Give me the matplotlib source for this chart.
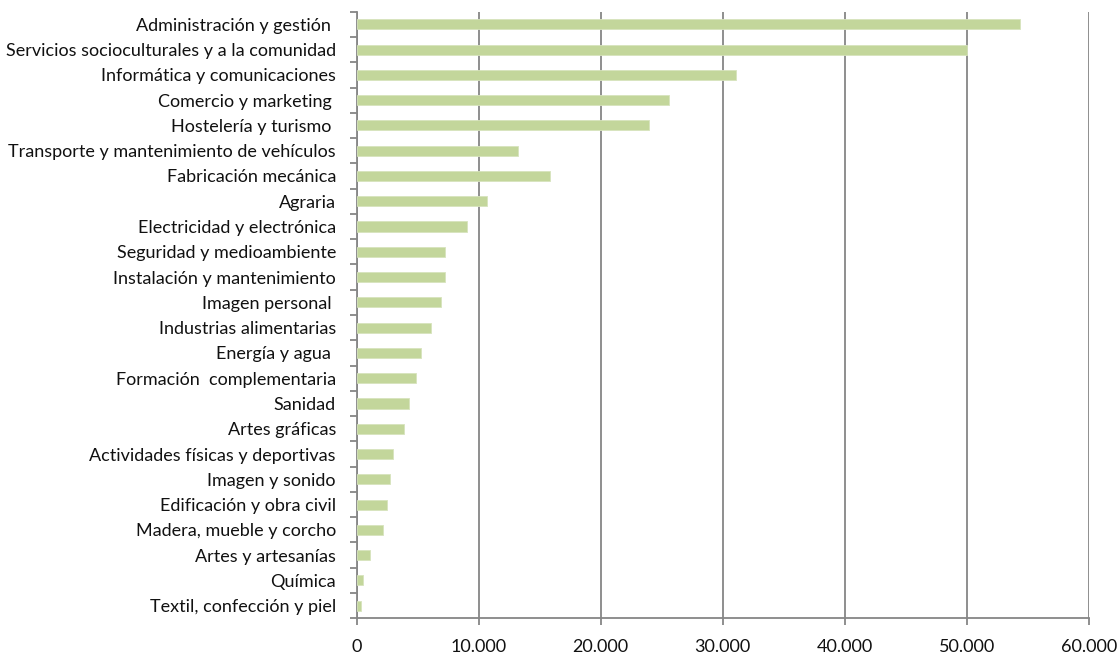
import matplotlib

matplotlib.use("Agg")
import matplotlib.pyplot as plt
import numpy as np
from matplotlib.ticker import FuncFormatter, FixedLocator

categories = [
    "Administración y gestión ",
    "Servicios socioculturales y a la comunidad",
    "Informática y comunicaciones",
    "Comercio y marketing ",
    "Hostelería y turismo ",
    "Transporte y mantenimiento de vehículos",
    "Fabricación mecánica",
    "Agraria",
    "Electricidad y electrónica",
    "Seguridad y medioambiente",
    "Instalación y mantenimiento",
    "Imagen personal ",
    "Industrias alimentarias",
    "Energía y agua ",
    "Formación  complementaria",
    "Sanidad",
    "Artes gráficas",
    "Actividades físicas y deportivas",
    "Imagen y sonido",
    "Edificación y obra civil",
    "Madera, mueble y corcho",
    "Artes y artesanías",
    "Química",
    "Textil, confección y piel",
]
values = [54400, 50050, 31070, 25630, 23960, 13200, 15850, 10680, 9020, 7210,
          7230, 6910, 6090, 5250, 4840, 4260, 3850, 3000, 2730, 2460, 2180,
          1070, 490, 350]
x_ticks = [0, 10000, 20000, 30000, 40000, 50000, 60000]

plt.rcParams["font.family"] = ["Lato", "DejaVu Sans"]

fig = plt.figure(figsize=(11.19, 6.54), dpi=100)
ax = fig.add_axes([0.3188, 0.0546, 0.6541, 0.9275])

n = len(categories)
y = np.arange(n)[::-1]
ax.barh(y, values, height=0.4, color="#c3d69b", edgecolor="#d7e4bd", linewidth=0.6, zorder=3)

ax.set_xlim(0, 60000)
ax.set_ylim(-0.5, n - 0.5)
ax.xaxis.set_major_locator(FixedLocator(x_ticks))
ax.xaxis.set_major_formatter(FuncFormatter(lambda v, p: f"{int(v):,}".replace(",", ".")))
ax.grid(axis="x", color="#868686", linewidth=1.3, zorder=1)

ax.set_yticks(y)
ax.set_yticklabels(categories)
ax.set_yticks(np.arange(-0.5, n, 1.0), minor=True)
ax.tick_params(axis="y", which="major", length=0, pad=15, labelsize=13, labelcolor="#111111")
ax.tick_params(axis="y", which="minor", length=5, width=1.3, color="#868686", direction="out")
ax.tick_params(axis="x", length=5, width=1.3, color="#868686", direction="out", pad=10,
               labelsize=13, labelcolor="#111111")

for side in ("top", "right"):
    ax.spines[side].set_visible(False)
for side in ("left", "bottom"):
    ax.spines[side].set_color("#868686")
    ax.spines[side].set_linewidth(1.3)

fig.savefig("out.png", dpi=100)
